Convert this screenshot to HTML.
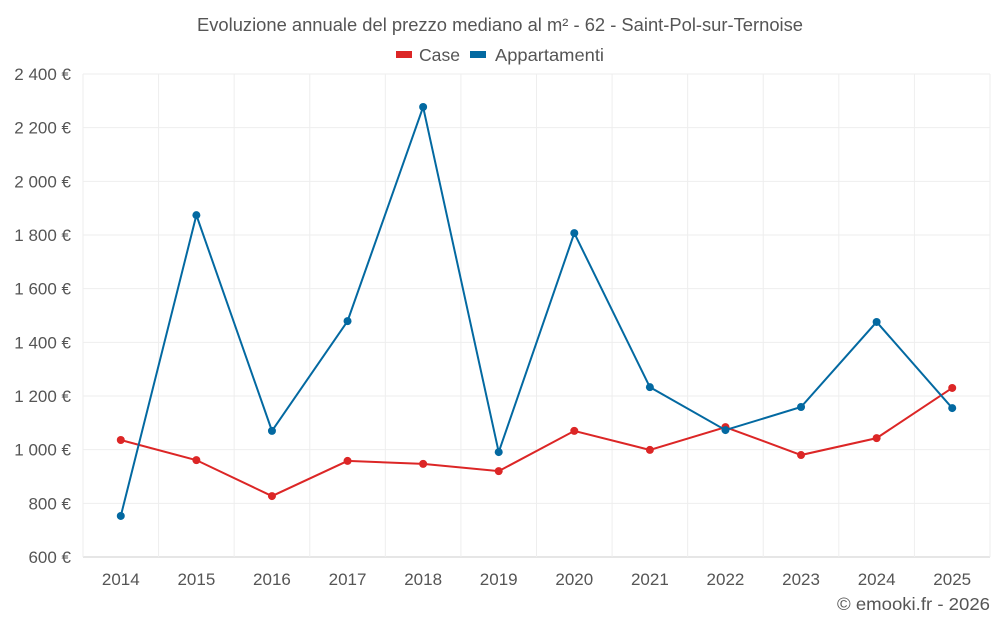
<!DOCTYPE html>
<html><head><meta charset="utf-8"><style>
html,body{margin:0;padding:0;background:#fff;}
svg{display:block;font-family:"Liberation Sans",Roboto,sans-serif;}
</style></head><body>
<svg id="chart" width="1000" height="625" viewBox="0 0 1000 625">
<text x="500" y="31" text-anchor="middle" font-size="18" textLength="606" lengthAdjust="spacingAndGlyphs" fill="#555">Evoluzione annuale del prezzo mediano al m² - 62 - Saint-Pol-sur-Ternoise</text>
<g>
<g><rect x="396" y="51" width="16" height="7" fill="#dc2626"/><text x="419" y="61" font-size="17.5" textLength="41" lengthAdjust="spacingAndGlyphs" fill="#555">Case</text></g>
<g><rect x="470" y="51" width="16" height="7" fill="#0369a1"/><text x="495" y="61" font-size="17.5" textLength="109" lengthAdjust="spacingAndGlyphs" fill="#555">Appartamenti</text></g>
</g>
<g id="grid"></g><g id="axes"></g><g id="series"></g>
<text x="990" y="610" text-anchor="end" font-size="17.5" textLength="153" lengthAdjust="spacingAndGlyphs" fill="#555">© emooki.fr - 2026</text>
</svg>
<script>
const years=[2014,2015,2016,2017,2018,2019,2020,2021,2022,2023,2024,2025];
const caseValues=[1036,961,827,958,947,920,1070,999,1084,980,1043,1230];
const apptValues=[753,1874,1070,1479,2277,991,1807,1233,1073,1159,1476,1155];
const yTicks=[600,800,1000,1200,1400,1600,1800,2000,2200,2400];
const NS="http://www.w3.org/2000/svg";
const L=83,R=990,T=74,B=557,yMin=600,yMax=2400;
const step=(R-L)/years.length;
const x=i=>L+step*(i+0.5);
const y=v=>B-(v-yMin)/(yMax-yMin)*(B-T);
function mk(tag,attrs,parent){const e=document.createElementNS(NS,tag);for(const k in attrs)e.setAttribute(k,attrs[k]);parent.appendChild(e);return e;}
const grid=document.getElementById('grid'),axes=document.getElementById('axes'),series=document.getElementById('series');
yTicks.forEach(t=>{
 const l=mk('line',{x1:L,x2:R,y1:y(t),y2:y(t),stroke:t===yMin?'#ccc':'#eee','stroke-width':1},grid);
 
 
 const tx=mk('text',{x:71,y:y(t)+6,'text-anchor':'end','font-size':17,fill:'#555'},axes);
 tx.textContent=t.toLocaleString('fr-FR').replace(/\u202f|\u00a0/g,' ')+' €';
 
 
});
for(let i=0;i<=years.length;i++){
 const l=mk('line',{x1:L+step*i,x2:L+step*i,y1:T,y2:B,stroke:'#eee','stroke-width':1},grid);
 
 
}
years.forEach((yr,i)=>{
 const tx=mk('text',{x:x(i),y:585,'text-anchor':'middle','font-size':17,fill:'#555'},axes);
 tx.textContent=yr;
 
 
});
function draw(vals,color,name){
 const p=mk('polyline',{points:vals.map((v,i)=>x(i)+','+y(v)).join(' '),fill:'none',stroke:color,'stroke-width':2},series);
 
 
 vals.forEach((v,i)=>{
  const c=mk('circle',{cx:x(i),cy:y(v),r:4,fill:color},series);
  
  
 });
}
draw(caseValues,'#dc2626','case');
draw(apptValues,'#0369a1','appartamenti');
</script>
</body></html>
